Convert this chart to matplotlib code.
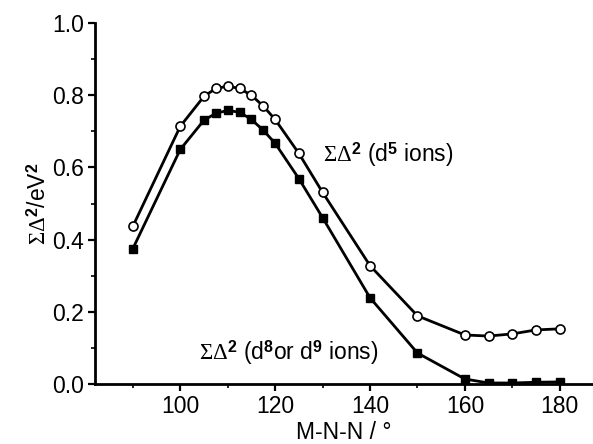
import matplotlib
matplotlib.use("Agg")
import matplotlib.pyplot as plt
from matplotlib.ticker import MultipleLocator

plt.rcParams['font.family'] = ['Liberation Sans', 'DejaVu Sans']
plt.rcParams['mathtext.fontset'] = 'custom'
plt.rcParams['mathtext.rm'] = 'Liberation Serif'
plt.rcParams['mathtext.it'] = 'Liberation Serif:italic'
plt.rcParams['mathtext.sf'] = 'Liberation Sans:bold'

# M-N-N angle (deg)
angle = [90, 100, 105, 107.5, 110, 112.5, 115, 117.5, 120, 125, 130, 140, 150, 160, 165, 170, 175, 180]
# sum Delta^2 for d5 ions (open circles)
d5 = [0.437, 0.714, 0.797, 0.819, 0.825, 0.819, 0.800, 0.770, 0.733, 0.639, 0.531, 0.328, 0.189,
      0.136, 0.133, 0.139, 0.150, 0.153]
# sum Delta^2 for d8 or d9 ions (filled squares)
d89 = [0.375, 0.650, 0.731, 0.750, 0.758, 0.753, 0.733, 0.703, 0.667, 0.569, 0.461, 0.239, 0.086,
       0.014, 0.003, 0.003, 0.005, 0.006]

fig = plt.figure(figsize=(5.93, 4.44), dpi=100)
ax = fig.add_axes([0.160, 0.135, 0.840, 0.813])

ax.plot(angle, d5, color='black', lw=2, marker='o', ms=6.5, mfc='white', mec='black', mew=1.2, zorder=3)
ax.plot(angle, d89, color='black', lw=2, marker='s', ms=5.5, mfc='black', mec='black', zorder=3)

ax.set_xlim(82, 187)
ax.set_ylim(0, 1.0)
ax.xaxis.set_major_locator(MultipleLocator(20))
ax.xaxis.set_minor_locator(MultipleLocator(10))
ax.yaxis.set_major_locator(MultipleLocator(0.2))
ax.yaxis.set_minor_locator(MultipleLocator(0.1))
ax.yaxis.set_major_formatter(matplotlib.ticker.FormatStrFormatter('%.1f'))

for s in ['top', 'right']:
    ax.spines[s].set_visible(False)
for s in ['left', 'bottom']:
    ax.spines[s].set_linewidth(2)
ax.tick_params(which='major', direction='out', length=5, width=1.6, labelsize=16.5, pad=3)
ax.tick_params(which='minor', direction='out', length=3, width=1.2)

ax.set_xlabel('M-N-N / °', fontsize=16.5, labelpad=2)
ax.set_ylabel(r'$\Sigma\mathit{\Delta}^{\mathsf{2}}$/eV$^{\mathsf{2}}$', fontsize=16.5, labelpad=1)

ax.text(130, 0.636, r'$\Sigma\mathit{\Delta}^{\mathsf{2}}$ (d$^{\mathsf{5}}$ ions)', fontsize=16.5, va='center')
ax.text(104, 0.086, r'$\Sigma\mathit{\Delta}^{\mathsf{2}}$ (d$^{\mathsf{8}}$or d$^{\mathsf{9}}$ ions)', fontsize=16.5, va='center')

fig.savefig('out.png', dpi=100)
